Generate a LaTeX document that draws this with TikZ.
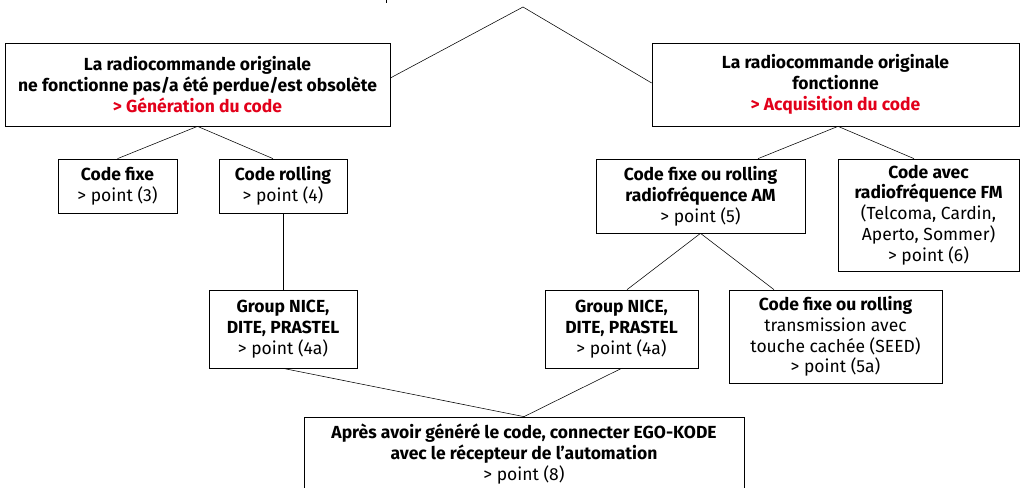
\documentclass[tikz,border=0pt]{standalone}
\usepackage{fontspec}
\setmainfont{Fira Sans}
\usepackage{tikz}

\definecolor{egored}{RGB}{226,0,26}

\begin{document}
\begin{tikzpicture}[x=1pt, y=-1pt, font=\fontsize{17.5}{20.8}\selectfont,
    box/.style={draw, align=center, inner sep=0pt, line width=0.7pt},
    link/.style={line width=0.55pt}]
    \useasboundingbox (0,0) rectangle (1024,487);
    \clip (0,0) rectangle (1024,487);

    \node[box, minimum width=385, minimum height=83]  (G)   at (197.5,  84.5)  {\textbf{La radiocommande originale} \\ \textbf{ne fonctionne pas/a été perdue/est obsolète} \\ \textcolor{egored}{\textbf{> Génération du code}}};
    \node[box, minimum width=367, minimum height=83]  (Q)   at (835.5,  84.5)  {\textbf{La radiocommande originale} \\ \textbf{fonctionne} \\ \textcolor{egored}{\textbf{> Acquisition du code}}};
    \coordinate (top) at (523, 7);
    \coordinate (ticka) at (386, 0);
    \coordinate (tickb) at (386, 3.5);

    \node[box, minimum width=119, minimum height=54]  (CF)  at (117.5, 186)    {\textbf{Code fixe} \\ > point (3)};
    \node[box, minimum width=128, minimum height=54]  (CR)  at (283,   186)    {\textbf{Code rolling} \\ > point (4)};
    \node[box, minimum width=148, minimum height=78]  (GN1) at (283,   329)    {\textbf{Group NICE,} \\ \textbf{DITE, PRASTEL} \\ > point (4a)};

    \node[box, minimum width=209, minimum height=74]  (AM)  at (700.5, 196)    {\textbf{Code fixe ou rolling} \\ \textbf{radiofréquence AM} \\ > point (5)};
    \node[box, minimum width=181, minimum height=112] (FM)  at (928.5, 215)    {\textbf{Code avec} \\ \textbf{radiofréquence FM} \\ (Telcoma, Cardin, \\ Aperto, Sommer) \\ > point (6)};
    \node[box, minimum width=153, minimum height=78]  (GN2) at (621.5, 329)    {\textbf{Group NICE,} \\ \textbf{DITE, PRASTEL} \\ > point (4a)};
    \node[box, minimum width=213, minimum height=93]  (SD)  at (835.5, 336.5)  {\textbf{Code fixe ou rolling} \\ transmission avec \\ touche cachée (SEED) \\ > point (5a)};

    \node[box, minimum width=440, minimum height=74]  (E)   at (524,   454)    {\textbf{Après avoir généré le code, connecter EGO-KODE} \\ \textbf{avec le récepteur de l’automation} \\ > point (8)};

    \draw[link] (ticka) -- (tickb);
    \draw[link] ([yshift=6.5pt]G.east) -- (top) -- ([yshift=1.5pt]Q.west);

    \draw[link] (G.south) -- (CF.north);
    \draw[link] (G.south) -- ([xshift=-10pt]CR.north);
    \draw[link] (CR.south) -- (GN1.north);
    \draw[link] (GN1.south) -- (E.north);

    \draw[link] ([xshift=2.5pt]Q.south) -- ([xshift=57.5pt]AM.north);
    \draw[link] ([xshift=2.5pt]Q.south) -- ([xshift=-14.5pt]FM.north);
    \draw[link] (AM.south) -- ([xshift=5.5pt]GN2.north);
    \draw[link] (AM.south) -- ([xshift=-61.5pt]SD.north);
    \draw[link] (GN2.south) -- (E.north);
  \end{tikzpicture}
\end{document}
